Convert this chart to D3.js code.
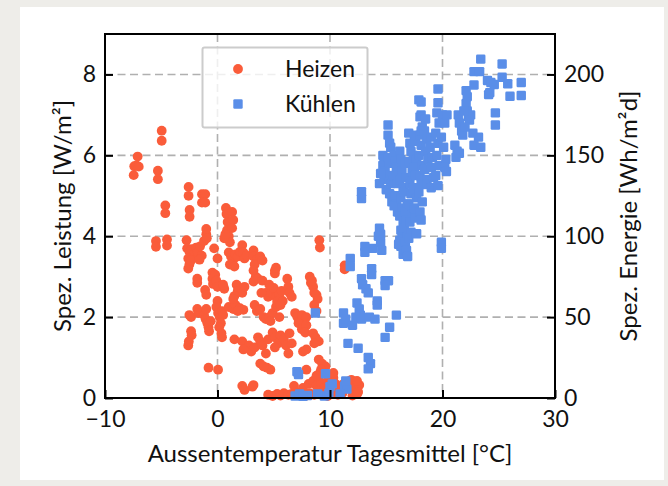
<!DOCTYPE html>
<html><head><meta charset="utf-8">
<script src="https://cdn.jsdelivr.net/npm/d3@7"></script>
<style>
html,body{margin:0;padding:0;background:#eeede9;}
svg{display:block;font-family:Lato,"Open Sans",sans-serif;}
</style></head><body>
<svg id="chart" width="668" height="486"></svg>
<script>
// Axis ticks
const xTicks = [-10, 0, 10, 20, 30];
const yTicks = [0, 2, 4, 6, 8];
const energyTicks = [0, 50, 100, 150, 200];

// Series labels and colours
const seriesNames = ["Heizen", "Kühlen"];
const seriesColors = ["#fa5c3a", "#5a8ee8"];

// Heizen: [Aussentemperatur Tagesmittel °C, spez. Leistung W/m²]
const heizen = [
  [-7.45,5.51],[-7.4,5.73],[-7.2,5.75],[-7.0,5.72],[-7.1,5.97],
  [-5.3,5.62],[-5.3,5.41],[-4.96,6.61],[-4.96,6.36],
  [-4.64,4.76],[-4.64,4.57],
  [-5.47,3.88],[-5.47,3.74],[-4.49,3.92],[-4.49,3.77],
  [-2.57,5.22],[-2.57,5.0],[-2.48,4.65],[-2.48,4.48],
  [-1.38,5.04],[-1.09,5.04],[-1.38,4.83],[-1.09,4.83],
  [-2.75,3.9],[-2.7,3.7],[-2.5,3.62],[-2.3,3.68],[-2.1,3.55],[-1.9,3.72],[-1.75,3.6],[-1.55,3.75],[-1.4,3.52],
  [-2.6,3.45],[-2.5,3.3],[-2.6,3.2],[-1.2,3.88],[-1.0,4.05],[-0.95,3.95],[-1.0,4.18],[-2.35,3.4],[-1.6,3.42],
  [-1.8,2.95],[-1.8,2.85],[-1.1,2.67],[-1.0,2.55],
  [-0.3,3.7],[0.0,3.45],[-0.45,3.1],[-0.45,2.95],[-0.4,2.82],[-0.2,3.05],[-0.1,2.9],[0.0,2.75],
  [-2.5,2.05],[-2.35,2.0],[-2.35,1.65],[-2.3,1.55],[-2.6,1.3],[-2.55,1.4],[-1.8,2.2],[-1.7,2.1],
  [-1.2,2.05],[-1.05,1.95],[-0.9,1.85],[-0.8,1.75],[-0.75,1.65],[-1.0,2.2],[-0.6,1.9],
  [-0.8,0.75],[0.05,0.7],
  [0.0,2.4],[-0.1,2.25],[0.05,2.1],[0.2,2.0],[0.3,1.85],[0.15,1.75],[0.35,1.6],[0.4,1.5],[0.4,2.15],[0.5,2.05],
  [0.6,2.7],[0.5,2.8],
  [1.0,2.25],[1.4,2.2],[1.6,2.3],[2.0,2.22],[2.3,2.18],[1.8,2.15],
  [0.75,4.7],[0.8,4.55],[0.9,4.35],[0.85,4.15],[1.0,4.0],[1.1,3.85],[1.3,4.6],[1.4,4.4],[1.3,4.2],[0.6,3.95],[0.7,4.05],
  [1.0,3.6],[1.2,3.5],[1.4,3.42],[1.6,3.55],[1.8,3.5],[2.0,3.62],[2.2,3.78],[2.3,3.6],[2.4,3.45],[2.6,3.52],[1.1,3.3],[1.5,3.25],
  [3.2,3.65],[3.2,3.5],[3.5,3.42],[3.8,3.5],[3.3,3.3],[4.0,3.4],
  [3.2,3.15],[3.4,3.0],[3.2,2.88],[3.6,2.95],
  [1.7,2.8],[1.8,2.65],[2.2,2.6],[2.4,2.75],[1.5,2.52],[1.4,2.45],
  [4.0,2.9],[4.3,2.6],[4.5,2.5],[4.8,2.6],[5.0,2.72],[5.2,2.5],[5.5,2.55],[5.7,2.65],[5.3,2.38],[5.8,2.4],[4.6,2.8],[3.9,2.6],
  [5.1,3.15],[5.1,3.08],[5.2,3.22],
  [6.2,2.95],[6.3,2.75],[6.4,2.6],[6.6,2.5],
  [8.2,3.0],[8.3,2.85],[8.5,2.75],[8.6,2.6],[8.8,2.55],[8.9,2.45],[8.4,2.9],[8.6,2.3],[8.8,2.15],
  [9.05,3.9],[9.1,3.72],
  [11.3,3.28],[11.3,3.18],
  [3.3,2.3],[3.5,2.15],[3.8,2.2],[4.1,2.0],[4.3,1.95],[4.6,2.0],[4.9,2.1],[5.2,2.25],[5.5,2.0],[4.7,1.9],[5.6,2.3],
  [6.9,2.1],[7.1,2.0],[7.3,1.9],[7.5,2.05],[7.2,1.85],[7.5,1.7],
  [7.9,2.0],[7.9,1.8],[7.8,1.62],
  [8.5,1.6],[8.7,1.5],[9.0,1.4],[8.6,1.35],
  [1.5,1.45],[2.2,1.4],[2.8,1.3],[3.0,1.15],[3.3,1.25],[3.6,1.5],[3.8,1.4],[4.0,1.3],[4.5,1.45],[4.9,1.62],[5.1,1.5],
  [5.4,1.35],[5.6,1.55],[5.9,1.45],[6.1,1.3],[6.4,1.6],[6.6,1.35],[2.3,1.2],[4.3,1.1],[5.1,1.25],[6.3,1.1],
  [7.6,1.15],[7.9,1.2],
  [3.8,0.85],[4.4,0.75],[4.7,0.7],[4.1,0.78],
  [9.0,0.95],[9.3,0.85],[9.6,0.78],[9.2,0.7],
  [2.2,0.3],[2.4,0.2],[3.2,0.32],[3.1,0.28],
  [4.5,0.08],[4.9,0.05],[5.3,0.1],[5.6,0.06],[5.9,0.12],[6.3,0.08],[6.6,0.1],[7.0,0.15],[7.4,0.1],[7.8,0.05],
  [8.2,0.12],[8.6,0.08],[9.0,0.15],[9.4,0.1],[9.8,0.05],[10.3,0.1],[10.7,0.08],[11.1,0.12],[12.0,0.06],[12.4,0.1],
  [6.8,0.3],[7.6,0.25],[8.1,0.35],[8.5,0.42],[8.8,0.3],[9.0,0.5],[9.2,0.38],[9.5,0.25],[9.8,0.42],[10.0,0.3],
  [10.3,0.5],[10.5,0.35],[10.8,0.22],[11.2,0.35],[11.5,0.4],[11.8,0.22],[12.2,0.3],[12.6,0.32],[12.5,0.15],
  [9.1,0.62],[8.8,0.55],[10.3,0.62],[7.9,0.7],[11.9,0.45],[12.4,0.42]
];

// Kühlen: [Aussentemperatur Tagesmittel °C, spez. Leistung W/m²]
const kuehlen = [
  [7.06,0.65],[7.2,0.58],[9.6,0.6],[8.7,2.1],[6.9,0.05],[7.3,0.1],[8.0,0.06],[9.5,0.05],[10.0,0.28],[10.2,0.35],
  [11.3,0.3],[11.5,0.22],[10.9,0.1],[9.9,0.12],[7.6,0.04],[11.4,0.42],[8.9,0.1],
  [11.8,3.45],[11.8,3.25],[13.1,3.75],[13.1,3.6],[13.8,3.7],[14.4,4.2],[14.5,4.05],[14.5,3.85],[14.6,3.65],[14.3,4.0],
  [16.2,3.9],[16.3,3.75],[16.5,3.55],[16.4,4.07],[19.9,3.85],[19.9,3.7],
  [13.7,3.2],[13.7,3.05],[12.8,2.95],[12.9,2.8],[13.2,2.7],[13.4,2.6],[14.9,2.9],[15.2,2.9],[14.9,2.78],[14.2,2.4],[14.2,2.3],
  [12.4,2.35],[12.6,2.2],[12.7,2.05],[12.3,2.0],[12.8,1.95],[11.2,2.1],[11.2,1.85],[11.4,1.95],[12.0,1.8],[13.5,2.0],
  [14.0,1.95],[15.9,2.05],[15.3,1.75],[14.9,1.5],[11.6,1.35],[12.5,1.23],[13.4,1.0],[13.6,0.85],[13.4,0.72],
  [12.8,5.1],[12.8,4.93],
  [14.7,6.0],[14.8,5.9],[14.7,5.75],[14.9,5.6],[15.0,5.5],[14.8,5.4],[15.0,5.15],[14.4,5.3],[14.5,5.55],
  [15.16,6.75],[15.16,6.5],[15.3,6.3],[15.4,6.2],[15.3,5.8],[15.4,5.3],[15.3,5.05],[15.5,4.85],[15.2,5.95],
  [15.7,6.0],[15.8,5.85],[15.9,5.7],[15.7,5.5],[16.0,5.3],[15.8,5.0],[15.9,4.8],[16.0,4.6],[15.7,4.75],
  [16.2,6.1],[16.3,5.9],[16.4,5.6],[16.2,5.4],[16.5,5.2],[16.3,4.95],[16.4,4.7],[16.2,4.5],[16.5,4.3],[16.3,4.15],[16.1,3.8],
  [16.7,5.8],[16.8,5.45],[16.6,5.1],[16.9,4.8],[16.7,4.6],[16.8,4.4],[16.6,4.2],[16.9,4.0],[16.7,3.85],[16.8,3.65],[16.9,3.5],
  [17.0,6.55],[17.1,6.3],[17.2,6.1],[17.0,5.85],[17.3,5.6],[17.1,5.3],[17.2,5.05],[17.0,4.8],[17.3,4.55],[17.1,4.35],[17.2,4.1],[17.0,3.95],
  [17.5,6.5],[17.6,6.35],[17.4,6.0],[17.7,5.9],[17.5,5.7],[17.6,5.5],[17.4,5.2],[17.7,4.95],[17.5,4.7],[17.6,4.45],[17.7,4.06],
  [17.9,7.37],[18.1,7.0],[18.2,6.7],[18.0,6.5],[18.1,6.25],[17.9,6.0],[18.2,5.75],[18.0,5.5],[18.1,5.3],[17.9,5.1],[18.2,4.85],[18.0,4.6],[18.1,4.4],
  [18.1,7.32],[18.0,6.95],[18.1,6.6],
  [18.5,6.9],[18.4,6.6],[18.6,6.4],[18.5,6.1],[18.7,5.9],[18.4,5.65],[18.6,5.4],[18.6,5.28],
  [19.0,6.45],[18.9,6.2],[19.1,5.95],[19.0,5.7],[19.2,5.45],[19.0,5.2],
  [19.6,7.64],[19.6,7.3],[19.5,7.05],[19.7,6.8],[19.4,6.55],[19.6,6.3],[19.5,6.0],[19.7,5.75],[19.4,5.5],[19.6,5.25],
  [20.0,7.0],[20.2,6.8],[19.9,6.45],[20.1,6.2],[20.3,5.9],[20.2,5.7],[20.35,5.6],[20.4,7.0],
  [21.1,6.25],[21.3,6.1],[21.2,5.95],[21.5,6.05],[21.4,7.0],[21.5,6.8],[21.7,6.6],[21.8,6.5],[22.1,7.28],[22.2,7.1],
  [22.3,6.95],[22.4,6.87],[22.1,7.6],[22.2,7.45],[22.7,6.55],[23.2,6.45],[22.8,6.25],[23.4,6.2],[22.8,8.07],[23.3,8.07],
  [23.4,8.38],[22.8,7.74],[24.0,7.85],[24.3,7.8],[24.6,7.75],[24.1,7.5],[24.2,7.55],[25.3,8.26],[25.3,7.93],[25.8,7.77],
  [27.0,7.8],[26.0,7.46],[27.0,7.48],[24.7,7.05],[24.7,6.75],[22.5,7.0],[21.9,7.1],[22.0,6.7]
];

const plot = {left: 105, right: 555, top: 34, bottom: 398};
const tickFont = 23, titleFont = 24, textColor = "#111";

const svg = d3.select("#chart");

// white card behind the figure
svg.append("rect").attr("x", 20).attr("y", 7).attr("width", 644).attr("height", 473).attr("fill", "#ffffff");

const x = d3.scaleLinear().domain([-10, 30]).range([plot.left, plot.right]);
const y = d3.scaleLinear().domain([0, 9]).range([plot.bottom, plot.top]);
// 1 W/m² corresponds to 25 Wh/(m²d) on the right-hand axis
const yEnergy = d3.scaleLinear().domain([0, 225]).range([plot.bottom, plot.top]);

// dashed grid
const grid = svg.append("g").attr("stroke", "#b0b0b0").attr("stroke-width", 1.6).attr("stroke-dasharray", "8,4.5");
grid.selectAll("line.gx").data(xTicks.slice(1, -1)).join("line")
  .attr("x1", d => x(d)).attr("x2", d => x(d)).attr("y1", plot.top).attr("y2", plot.bottom);
grid.selectAll("line.gy").data(yTicks.slice(1)).join("line")
  .attr("x1", plot.left).attr("x2", plot.right).attr("y1", d => y(d)).attr("y2", d => y(d));

// scatter marks
const marks = svg.append("g");
const r = 4.9, sq = 9.4;
marks.append("g").attr("fill", seriesColors[0]).selectAll("circle").data(heizen).join("circle")
  .attr("cx", d => x(d[0])).attr("cy", d => y(d[1])).attr("r", r);
marks.append("g").attr("fill", seriesColors[1]).selectAll("rect").data(kuehlen).join("rect")
  .attr("x", d => x(d[0]) - sq / 2).attr("y", d => y(d[1]) - sq / 2)
  .attr("width", sq).attr("height", sq).attr("rx", 1.3);

// axes with inward ticks
function styleAxis(g) {
  g.select(".domain").remove();
  g.selectAll(".tick line").attr("stroke", "#000").attr("stroke-width", 2);
  g.selectAll(".tick text").attr("font-size", tickFont).attr("fill", textColor).attr("font-family", "Lato");
}
svg.append("g").attr("transform", `translate(0,${plot.bottom})`)
  .call(d3.axisBottom(x).tickValues(xTicks).tickSize(-8).tickPadding(13)).call(styleAxis);
svg.append("g").attr("transform", `translate(${plot.left},0)`)
  .call(d3.axisLeft(y).tickValues(yTicks).tickSize(-8).tickPadding(9)).call(styleAxis);
svg.append("g").attr("transform", `translate(${plot.right},0)`)
  .call(d3.axisRight(yEnergy).tickValues(energyTicks).tickSize(-8).tickPadding(9)).call(styleAxis);

// frame
svg.append("rect").attr("x", plot.left).attr("y", plot.top)
  .attr("width", plot.right - plot.left).attr("height", plot.bottom - plot.top)
  .attr("fill", "none").attr("stroke", "#000").attr("stroke-width", 2);

// axis titles
const title = (t, tr) => svg.append("text").attr("transform", tr).attr("text-anchor", "middle")
  .attr("font-size", titleFont).attr("fill", textColor).text(t);
title("Aussentemperatur Tagesmittel [°C]", `translate(${(plot.left + plot.right) / 2},462)`);
title("Spez. Leistung [W/m²]", `translate(71,${(plot.top + plot.bottom) / 2}) rotate(-90)`);
title("Spez. Energie [Wh/m²d]", `translate(637,${(plot.top + plot.bottom) / 2}) rotate(-90)`);

// legend
const lg = svg.append("g");
lg.append("rect").attr("x", 202.5).attr("y", 47.5).attr("width", 165).attr("height", 80).attr("rx", 2)
  .attr("fill", "#ffffff").attr("fill-opacity", 0.8).attr("stroke", "#cccccc").attr("stroke-width", 2);
const rows = [69, 104];
lg.append("circle").attr("cx", 238).attr("cy", rows[0]).attr("r", r).attr("fill", seriesColors[0]);
lg.append("rect").attr("x", 238 - sq / 2).attr("y", rows[1] - sq / 2).attr("width", sq).attr("height", sq)
  .attr("rx", 1.3).attr("fill", seriesColors[1]);
lg.selectAll("text").data(seriesNames).join("text")
  .attr("x", 285).attr("y", (d, i) => rows[i]).attr("dy", "0.35em")
  .attr("font-size", tickFont).attr("fill", textColor).text(d => d);
</script>
</body></html>
